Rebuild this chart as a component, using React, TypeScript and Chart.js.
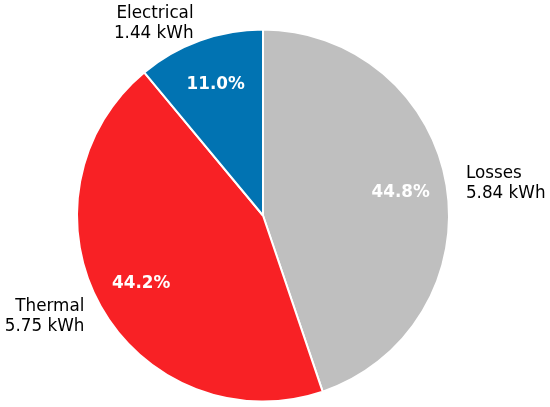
import React, { useEffect, useRef } from "react";
import { Chart, registerables } from "chart.js";

Chart.register(...registerables);

const categories = ["Losses", "Thermal", "Electrical"];
const energyKWh = [5.836, 5.754, 1.436];
const sliceColors = ["#BFBFBF", "#F82125", "#0173B2"];

const FONT_FAMILY = '"DejaVu Sans", sans-serif';
const FONT_SIZE = 16.8;

const labelPlugin = {
  id: "pieLabels",
  afterDatasetsDraw(chart: any) {
    const ctx = chart.ctx;
    const meta = chart.getDatasetMeta(0);
    const data = chart.data.datasets[0].data as number[];
    const total = data.reduce((a, b) => a + b, 0);
    const labels = chart.data.labels as string[];
    ctx.save();
    meta.data.forEach((arc: any, i: number) => {
      const { x, y, startAngle, endAngle, outerRadius } = arc.getProps(
        ["x", "y", "startAngle", "endAngle", "outerRadius"],
        true
      );
      const mid = (startAngle + endAngle) / 2;
      const cos = Math.cos(mid);
      const sin = Math.sin(mid);
      // percentage label
      const pr = outerRadius * 0.75;
      ctx.fillStyle = "#ffffff";
      ctx.font = `bold ${FONT_SIZE}px ${FONT_FAMILY}`;
      ctx.textAlign = "center";
      ctx.textBaseline = "middle";
      ctx.fillText(((data[i] / total) * 100).toFixed(1) + "%", x + pr * cos, y + pr * sin);
      // outer label
      const lr = outerRadius * 1.1;
      const lx = x + lr * cos;
      const ly = y + lr * sin;
      ctx.fillStyle = "#000000";
      ctx.font = `${FONT_SIZE}px ${FONT_FAMILY}`;
      ctx.textAlign = cos > 0 ? "left" : "right";
      ctx.textBaseline = "middle";
      const lines = [labels[i], data[i].toFixed(2) + " kWh"];
      const lh = FONT_SIZE * 1.2;
      lines.forEach((t, k) => {
        ctx.fillText(t, lx + (cos > 0 ? 1 : 0), ly + 1 + (k - (lines.length - 1) / 2) * lh);
      });
    });
    ctx.restore();
  },
};

export default function App() {
  const ref = useRef<HTMLCanvasElement>(null);
  useEffect(() => {
    if (!ref.current) return;
    const chart = new Chart(ref.current, {
      type: "pie",
      data: {
        labels: categories,
        datasets: [
          {
            data: energyKWh,
            backgroundColor: sliceColors,
            borderColor: "#ffffff",
            borderWidth: 2,
          },
        ],
      },
      options: {
        animation: false,
        responsive: false,
        devicePixelRatio: 1,
        radius: 186,
        layout: { padding: { left: 0, right: 24, top: 24, bottom: 0 } },
        plugins: {
          legend: { display: false },
          tooltip: { enabled: false },
        },
      } as any,
      plugins: [labelPlugin],
    });
    return () => chart.destroy();
  }, []);
  return (
    <div style={{ position: "fixed", left: 0, top: 0, width: 550, height: 407, background: "#fff" }}>
      <canvas ref={ref} width={550} height={407} style={{ width: 550, height: 407 }} />
    </div>
  );
}
